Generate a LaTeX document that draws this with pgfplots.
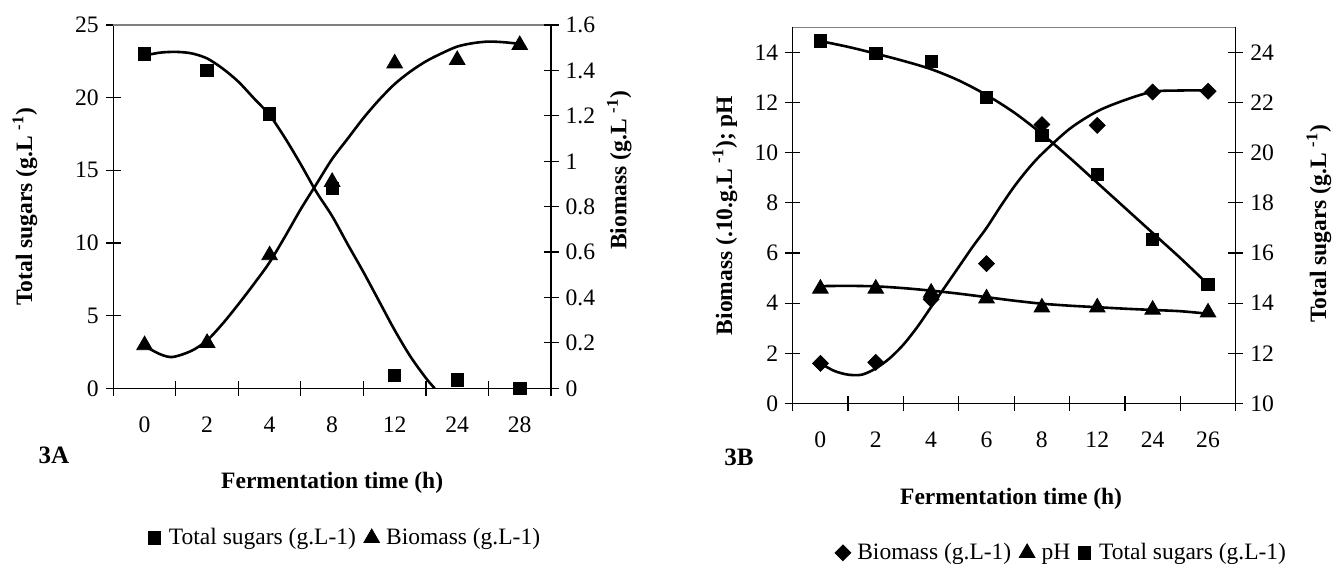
\documentclass[border=0pt]{standalone}
\usepackage{fontspec}
\setmainfont{Liberation Serif}
\usepackage{pgfplots}
\pgfplotsset{compat=1.18}

% 1 px of the reference = 0.5pt
\pgfplotsset{
  panel/.style={
    scale only axis, anchor=south west, clip=false,
    tick align=center, major tick length=7.5pt, minor tick length=7.5pt,
    tick style={black, line width=0.6pt},
    axis line style={black, line width=0.7pt},
    /pgf/number format/assume math mode=true,
    tick label style={font=\fontsize{11.8}{14}\selectfont},
    label style={font=\fontsize{11.75}{14}\selectfont\bfseries},
    major x tick style={draw=none},
    xticklabel style={yshift=-7pt},
  },
  curve/.style={black, line width=1.3pt, smooth, no markers, forget plot},
  sq/.style={only marks, mark=square*, mark size=3.1pt, black},
  tri/.style={only marks, mark=triangle*, mark size=4.5pt, black},
  dia/.style={only marks, mark=square*, mark size=2.8pt, mark options={rotate=45}, black},
  leg/.style={
    legend style={draw=none, fill=none, anchor=center, legend columns=-1,
      font=\fontsize{11.75}{14}\selectfont,
      /tikz/every even column/.append style={column sep=2pt}},
    legend image code/.code={\draw[##1] plot coordinates {(3pt,0pt)}; \path (0pt,0pt) (8pt,0pt);},
  },
}

\begin{document}
\begin{tikzpicture}
\path[use as bounding box] (0,0) rectangle (666pt,281.5pt);

% ---------------- 3A ----------------
\begin{axis}[panel,
  at={(56.65pt,87.35pt)}, width=218.85pt, height=181.65pt,
  xmin=-0.5, xmax=6.5, ymin=0, ymax=25,
  axis x line*=bottom, axis y line*=left,
  xtick={0,...,6}, xticklabels={0,2,4,8,12,24,28},
  minor xtick={-0.5,0.5,...,6.5},
  ytick={0,5,...,25},
  xlabel={Fermentation time (h)},
  xlabel style={at={(axis description cs:0.5,-0.261)}, anchor=center},
  ylabel={Total sugars (g.L \textsuperscript{-1})},
  ylabel style={at={(axis description cs:-0.202,0.5)}, anchor=center},
]
\draw[gray, line width=0.7pt] (rel axis cs:0,1) -- (rel axis cs:1,1);
% total sugars trend
\addplot[curve] coordinates {
  (0,22.9) (0.25,23.1) (0.5,23.15) (0.75,23.05) (1,22.7) (1.25,22.0)
  (1.5,21.1) (1.75,19.95) (2,18.8) (2.25,17.2) (2.5,15.4) (2.75,13.5)
  (3,11.85) (3.25,9.9) (3.5,8.0) (3.75,6.0) (4,4.0) (4.25,2.2) (4.5,0.7) (4.64,0)
};
\addplot[sq, forget plot] coordinates {
  (0,23.0) (1,21.86) (2,18.87) (3,13.75) (4,0.87) (5,0.57) (6,0.0)
};
\end{axis}

\begin{axis}[panel, leg,
  at={(56.65pt,87.35pt)}, width=218.85pt, height=181.65pt,
  xmin=-0.5, xmax=6.5, ymin=0, ymax=1.6,
  axis x line=none, axis y line*=right,
  ytick={0,0.2,0.4,0.6,0.8,1,1.2,1.4,1.6},
  ylabel={Biomass (g.L \textsuperscript{-1})},
  ylabel style={at={(axis description cs:1.156,0.6)}, anchor=center},
  legend style={at={(0.532,-0.412)}},
]
% biomass trend
\addplot[curve] coordinates {
  (0,0.186) (0.25,0.150) (0.45,0.138) (0.75,0.165) (1,0.211) (1.25,0.285)
  (1.5,0.37) (1.75,0.46) (2,0.555) (2.25,0.67) (2.5,0.79) (2.75,0.90)
  (3,1.01) (3.25,1.10) (3.5,1.19) (3.75,1.27) (4,1.34) (4.25,1.395)
  (4.5,1.44) (4.75,1.475) (5,1.505) (5.25,1.52) (5.5,1.527) (5.75,1.524) (6,1.517)
};
\addlegendimage{sq}\addlegendentry{Total sugars (g.L-1)}
\addplot[tri] coordinates {
  (0,0.19) (1,0.20) (2,0.586) (3,0.909) (4,1.431) (5,1.446) (6,1.512)
};
\addlegendentry{Biomass (g.L-1)}
\end{axis}

% ---------------- 3B ----------------
\begin{axis}[panel,
  at={(396.35pt,79.75pt)}, width=221.5pt, height=188.1pt,
  xmin=-0.5, xmax=7.5, ymin=0, ymax=15,
  axis x line*=bottom, axis y line*=left,
  xtick={0,...,7}, xticklabels={0,2,4,6,8,12,24,26},
  minor xtick={-0.5,0.5,...,7.5},
  ytick={0,2,...,14},
  xlabel={Fermentation time (h)},
  xlabel style={at={(axis description cs:0.493,-0.254)}, anchor=center},
  ylabel={Biomass (.10.g.L \textsuperscript{-1}); pH},
  ylabel style={at={(axis description cs:-0.153,0.5)}, anchor=center},
]
\draw[gray, line width=0.7pt] (rel axis cs:0,1) -- (rel axis cs:1,1);
% biomass trend
\addplot[curve] coordinates {
  (0,1.6) (0.25,1.3) (0.5,1.15) (0.75,1.15) (1,1.4) (1.25,1.8) (1.5,2.35)
  (1.75,3.05) (2,3.85) (2.25,4.65) (2.5,5.45) (2.75,6.25) (3,7.0) (3.25,7.85)
  (3.5,8.65) (3.75,9.35) (4,9.95) (4.5,10.95) (5,11.65) (5.5,12.1) (6,12.43)
  (6.5,12.48) (7,12.48)
};
% pH trend
\addplot[curve] coordinates {
  (0,4.68) (0.5,4.69) (1,4.67) (1.5,4.6) (2,4.5) (2.5,4.38) (3,4.24) (3.5,4.1)
  (4,3.98) (4.5,3.9) (5,3.84) (5.5,3.78) (6,3.73) (6.5,3.68) (7,3.58)
};
\addplot[dia, forget plot] coordinates {
  (0,1.6) (1,1.64) (2,4.16) (3,5.58) (4,11.12) (5,11.09) (6,12.42) (7,12.45)
};
\addplot[tri, forget plot] coordinates {
  (0,4.58) (1,4.58) (2,4.42) (3,4.19) (4,3.83) (5,3.83) (6,3.74) (7,3.63)
};
\end{axis}

\begin{axis}[panel, leg,
  at={(396.35pt,79.75pt)}, width=221.5pt, height=188.1pt,
  xmin=-0.5, xmax=7.5, ymin=10, ymax=25,
  axis x line=none, axis y line*=right,
  ytick={10,12,...,24},
  ylabel={Total sugars (g.L \textsuperscript{-1})},
  ylabel style={at={(axis description cs:1.188,0.478)}, anchor=center},
  legend style={at={(0.609,-0.397)}},
]
% total sugars trend
\addplot[curve] coordinates {
  (0,24.45) (0.5,24.22) (1,23.95) (1.5,23.66) (2,23.33) (2.5,22.88) (3,22.3)
  (3.5,21.6) (4,20.75) (4.5,19.8) (5,18.8) (5.5,17.8) (6,16.8) (6.5,15.8) (7,14.75)
};
\addlegendimage{dia}\addlegendentry{Biomass (g.L-1)}
\addlegendimage{tri}\addlegendentry{pH}
\addplot[sq] coordinates {
  (0,24.45) (1,23.96) (2,23.63) (3,22.2) (4,20.68) (5,19.13) (6,16.54) (7,14.75)
};
\addlegendentry{Total sugars (g.L-1)}
\end{axis}

\node[font=\fontsize{12.5}{14}\selectfont\bfseries] at (27pt,54pt) {3A};
\node[font=\fontsize{12.5}{14}\selectfont\bfseries] at (369.5pt,53pt) {3B};
\end{tikzpicture}
\end{document}
